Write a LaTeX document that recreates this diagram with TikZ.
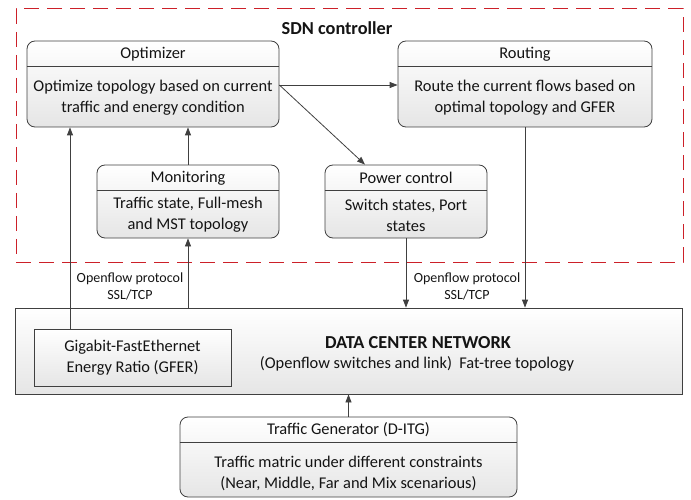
\documentclass[tikz,border=0pt]{standalone}
\usepackage{fontspec}
\setmainfont{Carlito}
\usetikzlibrary{arrows.meta}
\definecolor{edge}{HTML}{404040}
\definecolor{ctrlred}{HTML}{CC2029}
\tikzset{
  x=1pt, y=-1pt,
  every node/.style={text=black!92, font=\fontsize{16.4}{21}\selectfont},
  titledbox/.style={draw=edge, line width=0.8pt, rounded corners=8pt,
    top color=white, bottom color=black!10, inner sep=0pt},
  flatbox/.style={draw=edge, line width=0.8pt,
    top color=white, bottom color=black!10, inner sep=0pt},
  sep/.style={draw=edge, line width=0.8pt},
  link/.style={draw=edge, line width=0.8pt, -{Triangle[length=8pt,width=6pt]}},
  body/.style={align=center, inner sep=0pt},
  small/.style={align=center, inner sep=0pt, font=\fontsize{14}{17}\selectfont},
  heading/.style={inner sep=0pt, font=\bfseries\fontsize{18.3}{21}\selectfont},
}
\begin{document}
\begin{tikzpicture}
\useasboundingbox (0,0) rectangle (691,500);

% SDN controller frame
\node[draw=ctrlred, line width=1pt, dash pattern=on 15pt off 8pt,
      minimum width=667pt, minimum height=253pt, inner sep=0pt] (ctrl) at (349.5,135.5) {};
\node[heading] (sdn) at (337,28) {SDN controller};

% Optimizer
\node[titledbox, minimum width=252pt, minimum height=86pt] (opt) at (153,84) {};
\draw[sep] (opt.west |- 0,66) -- (opt.east |- 0,66);
\node (optT) at (153,54) {Optimizer};
\node[body] (optB) at (153,98) {Optimize topology based on current\\traffic and energy condition};

% Routing
\node[titledbox, minimum width=254pt, minimum height=86pt] (rout) at (525,84) {};
\draw[sep] (rout.west |- 0,66) -- (rout.east |- 0,66);
\node (routT) at (525,54) {Routing};
\node[body] (routB) at (525,98) {Route the current flows based on\\optimal topology and GFER};

% Monitoring
\node[titledbox, minimum width=182pt, minimum height=73pt] (mon) at (188,201.5) {};
\draw[sep] (mon.west |- 0,190) -- (mon.east |- 0,190);
\node (monT) at (188,178) {Monitoring};
\node[body] (monB) at (188,215) {Traffic state, Full-mesh\\and MST topology};

% Power control
\node[titledbox, minimum width=162pt, minimum height=73pt] (pwr) at (406,201.5) {};
\draw[sep] (pwr.west |- 0,190) -- (pwr.east |- 0,190);
\node (pwrT) at (406,178) {Power control};
\node[body] (pwrB) at (406,215) {Switch states, Port\\states};

% Data center network
\node[flatbox, minimum width=667pt, minimum height=86pt] (dcn) at (348.5,351) {};
\node[heading] (dcnT) at (418,343) {DATA CENTER NETWORK};
\node (dcnS) at (417,364) {(Openflow switches and link)\ \ Fat-tree topology};
\node[flatbox, minimum width=197pt, minimum height=57pt, align=center] (gfer) at (132.5,357.5)
  {Gigabit-FastEthernet\\Energy Ratio (GFER)};

% Traffic generator
\node[titledbox, minimum width=337pt, minimum height=80pt] (tg) at (348.5,457) {};
\draw[sep] (tg.west |- 0,442) -- (tg.east |- 0,442);
\node (tgT) at (348.5,430) {Traffic Generator (D-ITG)};
\node[body] (tgB) at (348.5,473) {Traffic matric under different constraints\\(Near, Middle, Far and Mix scenarious)};

% Openflow channel labels
\node[small] (ofL) at (130,286) {Openflow protocol\\SSL/TCP};
\node[small] (ofR) at (467,286) {Openflow protocol\\SSL/TCP};

% Connectors
\draw[link] (opt.east |- 0,85) -- (rout.west |- 0,85);
\draw[link] (opt.east |- 0,85) -- (pwr.north -| 365,0);
\draw[link] (mon.north) -- (opt.south -| mon.north);
\draw[link] (dcn.north -| mon.south) -- (mon.south);
\draw[link] (gfer.north -| 70,0) -- (opt.south -| 70,0);
\draw[link] (pwr.south) -- (dcn.north -| pwr.south);
\draw[link] (rout.south) -- (dcn.north -| rout.south);
\draw[link] (tg.north) -- (dcn.south -| tg.north);
\end{tikzpicture}
\end{document}
